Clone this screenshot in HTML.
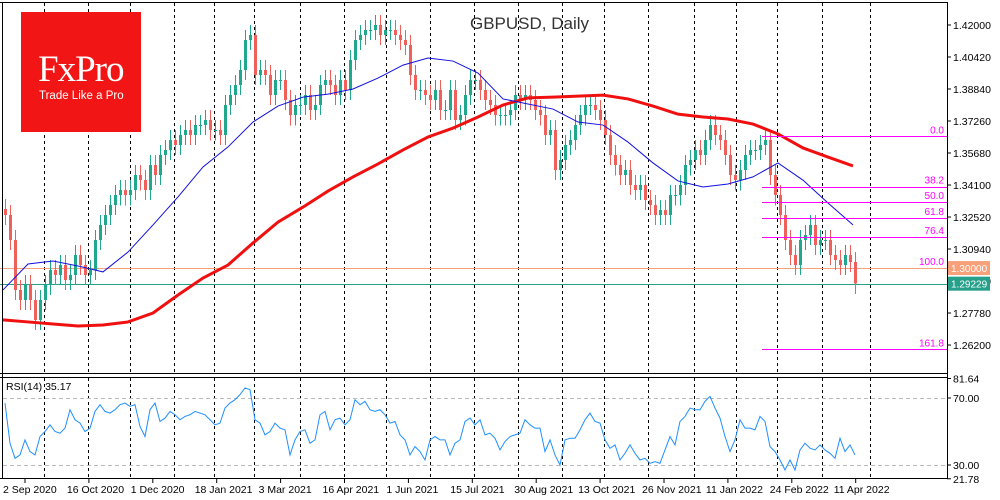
<!DOCTYPE html>
<html><head><meta charset="utf-8"><style>
html,body{margin:0;padding:0;background:#fff;width:1000px;height:500px;overflow:hidden;font-family:"Liberation Sans",sans-serif}
svg{position:absolute;left:0;top:0}
#logo{position:absolute;left:21px;top:12px;width:120px;height:120px;background:#f21515}
#logo .fx{position:absolute;left:17px;top:36px;font-family:"Liberation Serif",serif;font-size:37px;color:#fff;letter-spacing:-1px}
#logo .tl{position:absolute;left:18px;top:78px;font-size:11.5px;color:#fff}
</style></head><body>
<svg id="chart" width="1000" height="500"></svg>
<div id="logo"><span class="fx">FxPro</span><span class="tl">Trade Like a Pro</span></div>
<script>
const closes=[1.3262,1.3139,1.2892,1.2842,1.2916,1.2842,1.2744,1.2842,1.2916,1.2990,1.2966,1.3015,1.2941,1.2966,1.3064,1.3015,1.2966,1.2990,1.3139,1.3213,1.3262,1.3311,1.3360,1.3385,1.3360,1.3385,1.3459,1.3434,1.3385,1.3508,1.3459,1.3558,1.3583,1.3632,1.3607,1.3657,1.3681,1.3657,1.3706,1.3706,1.3731,1.3681,1.3681,1.3657,1.3805,1.3854,1.3904,1.3978,1.4126,1.4151,1.3953,1.3978,1.3953,1.3854,1.3928,1.3928,1.3830,1.3755,1.3805,1.3805,1.3854,1.3780,1.3805,1.3904,1.3928,1.3904,1.3854,1.3928,1.3879,1.4027,1.4126,1.4151,1.4175,1.4175,1.4200,1.4151,1.4175,1.4175,1.4151,1.4126,1.4101,1.3953,1.3879,1.3879,1.3854,1.3830,1.3879,1.3780,1.3780,1.3879,1.3731,1.3755,1.3854,1.3928,1.3928,1.3879,1.3830,1.3805,1.3755,1.3755,1.3755,1.3780,1.3854,1.3830,1.3854,1.3830,1.3780,1.3755,1.3657,1.3681,1.3484,1.3533,1.3607,1.3632,1.3706,1.3755,1.3805,1.3805,1.3780,1.3731,1.3657,1.3558,1.3508,1.3459,1.3484,1.3410,1.3385,1.3410,1.3336,1.3311,1.3262,1.3286,1.3262,1.3360,1.3360,1.3410,1.3508,1.3533,1.3583,1.3558,1.3632,1.3706,1.3657,1.3632,1.3558,1.3459,1.3434,1.3484,1.3558,1.3583,1.3583,1.3607,1.3632,1.3459,1.3360,1.3262,1.3139,1.3064,1.3015,1.3139,1.3163,1.3213,1.3114,1.3139,1.3139,1.3064,1.3040,1.3015,1.3064,1.3030,1.2923];
const ma50=[1.2892,1.3020,1.3035,1.3010,1.2981,1.3079,1.3213,1.3351,1.3499,1.3598,1.3721,1.3800,1.3844,1.3859,1.3884,1.3938,1.4002,1.4037,1.4022,1.3963,1.3835,1.3810,1.3785,1.3721,1.3706,1.3622,1.3519,1.3430,1.3400,1.3415,1.3450,1.3519,1.3434,1.3321,1.3213];
const ma200=[1.2744,1.2734,1.2724,1.2714,1.2719,1.2734,1.2778,1.2867,1.2951,1.3015,1.3124,1.3227,1.3301,1.3380,1.3450,1.3514,1.3583,1.3647,1.3691,1.3746,1.3805,1.3840,1.3844,1.3849,1.3854,1.3835,1.3800,1.3760,1.3746,1.3736,1.3711,1.3662,1.3593,1.3548,1.3504];
const rsi=[67,43,34,36,45,38,36,47,50,54,50,49,52,63,57,55,50,52,62,66,62,61,63,66,67,65,66,53,47,63,67,56,58,62,60,57,59,60,62,61,60,57,54,55,64,67,69,72,76,75,57,55,48,50,55,52,51,36,45,50,51,43,45,60,62,51,57,58,54,57,69,66,68,63,62,63,60,55,56,48,45,36,41,38,33,45,47,45,45,36,43,45,56,58,54,57,48,49,46,39,44,47,48,49,57,54,52,52,38,45,36,30,45,46,46,51,57,61,56,55,45,40,42,33,37,42,37,33,34,31,32,31,39,47,42,56,59,64,63,63,68,71,64,58,47,38,45,57,52,52,51,59,56,41,38,33,27,33,27,39,43,40,39,42,39,37,34,46,38,42,36];
const rsiLast="35.17";
const priceTicks=[1.42000,1.40420,1.38840,1.37260,1.35680,1.34100,1.32520,1.30940,1.29360,1.27780,1.26200];
const rsiTicks=["81.64","70.00","30.00","21.78"];
const rsiTickVals=[81.64,70,30,21.78];
const dateLabels=["2 Sep 2020","16 Oct 2020","1 Dec 2020","18 Jan 2021","3 Mar 2021","16 Apr 2021","1 Jun 2021","15 Jul 2021","30 Aug 2021","13 Oct 2021","26 Nov 2021","11 Jan 2022","24 Feb 2022","11 Apr 2022"];
const fibLevels=[0,38.2,50,61.8,76.4,100,161.8];
const fibHigh=1.3650, fibLow=1.3000;
const lastPrice=1.29229, roundLevel=1.30000;

const NS="http://www.w3.org/2000/svg";
const svg=document.getElementById('chart');
function el(t,a,p){const e=document.createElementNS(NS,t);for(const k in a)e.setAttribute(k,a[k]);(p||svg).appendChild(e);return e;}
const y=p=>25+(1.42-p)*2025.5;
const yr=v=>465-(v-30)*67/40;
const xc=i=>5+i*5;
const xm=k=>3+k*25;
const RIGHT=947;

const gridX=[44,88,130,174,214,254,300,344,386,430,474,518,562,604,648,694,736,777,822,870];
gridX.forEach(gx=>{
  let l=el('line',{x1:gx+.5,y1:3,x2:gx+.5,y2:373,stroke:'#000','stroke-dasharray':'3,3','stroke-width':1,'shape-rendering':'crispEdges'});
  
  
  let l2=el('line',{x1:gx+.5,y1:378,x2:gx+.5,y2:478,stroke:'#000','stroke-dasharray':'3,3','stroke-width':1,'shape-rendering':'crispEdges'});
  
  
});
let hl=el('line',{x1:0,y1:Math.round(y(roundLevel))+.5,x2:RIGHT,y2:Math.round(y(roundLevel))+.5,stroke:'#f7a07a','stroke-width':1});


let hl2=el('line',{x1:0,y1:Math.round(y(lastPrice))+.5,x2:RIGHT,y2:Math.round(y(lastPrice))+.5,stroke:'#26a08a','stroke-width':1});



closes.forEach((c,i)=>{
  const o=i?closes[i-1]:c+0.003;
  const hi=Math.max(o,c)+0.005, lo=Math.min(o,c)-0.005;
  const col=c>=o?'#1fa88c':'#f0605a';
  const x=xc(i);
  const g=el('g',{'shape-rendering':'crispEdges'});
  
  
  el('line',{x1:x+.5,y1:y(hi),x2:x+.5,y2:y(lo),stroke:col,'stroke-width':1},g);
  el('rect',{x:x-1,y:Math.min(y(o),y(c)),width:3,height:Math.max(1,Math.abs(y(o)-y(c))),fill:col},g);
});
let p1=el('polyline',{points:ma200.map((v,k)=>xm(k)+','+y(v)).join(' '),fill:'none',stroke:'#f01010','stroke-width':3});


let p2=el('polyline',{points:ma50.map((v,k)=>xm(k)+','+y(v)).join(' '),fill:'none',stroke:'#1010e0','stroke-width':1});


fibLevels.forEach(f=>{
  const p=fibHigh-(fibHigh-fibLow)*f/100;
  if(f!==100){let l=el('line',{x1:762,y1:Math.round(y(p))+.5,x2:RIGHT,y2:Math.round(y(p))+.5,stroke:'#ff00ff','stroke-width':1});
  
  }
  let t=el('text',{x:944,y:y(p)-3,'text-anchor':'end','font-size':10,fill:'#ff00ff'});
  t.textContent=f.toFixed(1);
  
  
});
let tt=el('text',{x:470,y:29,'font-size':17,fill:'#333'});tt.textContent='GBPUSD, Daily';


el('line',{x1:0,y1:2.5,x2:RIGHT,y2:2.5,stroke:'#000'});
el('line',{x1:0,y1:373.5,x2:RIGHT,y2:373.5,stroke:'#000'});
el('line',{x1:0,y1:377.5,x2:RIGHT,y2:377.5,stroke:'#000'});
el('line',{x1:0,y1:478.5,x2:RIGHT,y2:478.5,stroke:'#000'});
el('line',{x1:RIGHT+.5,y1:2,x2:RIGHT+.5,y2:479,stroke:'#000'});
el('line',{x1:2.5,y1:2,x2:2.5,y2:479,stroke:'#000'});
priceTicks.forEach(p=>{
  el('line',{x1:RIGHT,y1:y(p),x2:RIGHT+4,y2:y(p),stroke:'#000'});
  let t=el('text',{x:953,y:y(p)+4,'font-size':10.5,fill:'#000'});t.textContent=p.toFixed(5);
  
  
});
[[roundLevel,'#f7a07a','round-level-badge'],[lastPrice,'#26a08a','last-price-badge']].forEach(([p,c,n])=>{
  const g=el('g',{});
  
  
  el('rect',{x:948,y:y(p)-7,width:42,height:14,fill:c},g);
  let t=el('text',{x:951,y:y(p)+4,'font-size':10,fill:'#fff'},g);t.textContent=p.toFixed(5);
});
[70,30].forEach(v=>el('line',{x1:3,y1:Math.round(yr(v))+.5,x2:RIGHT,y2:Math.round(yr(v))+.5,stroke:'#bbb','stroke-dasharray':'4,3'}));
let rl=el('polyline',{points:rsi.map((v,i)=>xc(i)+','+yr(v)).join(' '),fill:'none',stroke:'#1e90ff','stroke-width':1});


let rt=el('text',{x:6,y:390,'font-size':10.5,fill:'#000'});rt.textContent='RSI(14) '+rsiLast;


rsiTickVals.forEach((v,i)=>{
  el('line',{x1:RIGHT,y1:yr(v),x2:RIGHT+4,y2:yr(v),stroke:'#000'});
  let t=el('text',{x:953,y:yr(v)+4,'font-size':10.5,fill:'#000'});t.textContent=rsiTicks[i];
  
  
});
dateLabels.forEach((d,i)=>{
  const x=3+i*63.9;
  el('line',{x1:x+22,y1:478,x2:x+22,y2:483,stroke:'#000'});
  let t=el('text',{x:x,y:493,'font-size':10.5,fill:'#000'});t.textContent=d;
  
  
});
</script>
</body></html>
